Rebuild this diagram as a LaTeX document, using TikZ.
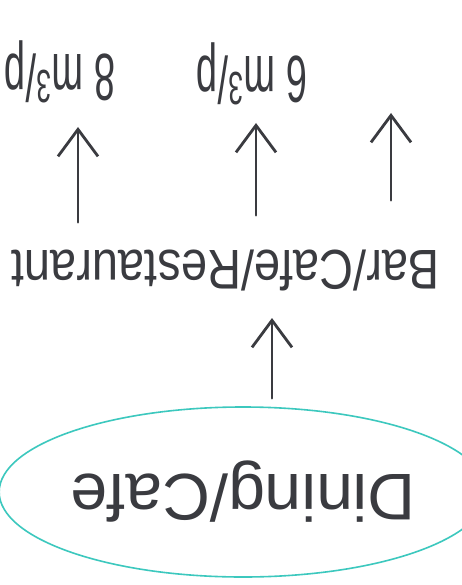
\documentclass[tikz,border=0pt]{standalone}
\usepackage{fontspec}
\setmainfont{Liberation Sans}
\usetikzlibrary{arrows.meta,shapes.geometric}
\definecolor{ink}{HTML}{3A3B40}
\definecolor{cyanline}{HTML}{3CC8BE}
\begin{document}
\begin{tikzpicture}[x=1pt,y=1pt,
  arr/.style={draw=ink, line width=2.8pt, line cap=round, line join=round,
    -{Straight Barb[length=27pt,width=40pt,line width=2.8pt]}},
  lbl/.style={text=ink, inner sep=0pt}]
\useasboundingbox (0,0) rectangle (462,-585);
\clip (0,0) rectangle (462,-585);
\fill[white] (0,0) rectangle (462,-585);
% top labels (drawn upside down, as in the reference)
\node[lbl, yscale=1.75, font=\fontsize{38}{38}\selectfont] (l8) at (60,-72) {\rotatebox{180}{8 m\textsuperscript{3}/p}};
\node[lbl, yscale=1.75, font=\fontsize{38}{38}\selectfont] (l6) at (252,-74) {\rotatebox{180}{6 m\textsuperscript{3}/p}};
% middle label
\node[lbl, anchor=east, xscale=0.84, font=\fontsize{56}{56}\selectfont] (bar) at (440,-271) {\rotatebox{180}{Bar/Cafe/Restaurant}};
% bottom ellipse
\node[ellipse, draw=cyanline, line width=1.6pt, minimum width=446pt, minimum height=170pt,
  inner sep=0pt, text=ink, font=\fontsize{66}{66}\selectfont] (dining) at (243,-492) {\rotatebox{180}{Dining/Cafe}};
% arrow tips
\coordinate (t1) at (78,-127);
\coordinate (t2) at (256,-123);
\coordinate (t3) at (391,-113);
\coordinate (t4) at (272,-318);
\draw[arr, shorten <=28pt] (bar.north -| t1) -- (t1);
\draw[arr, shorten <=35pt] (bar.north -| t2) -- (t2);
\draw[arr, shorten <=50pt] (bar.north -| t3) -- (t3);
\draw[arr, shorten <=8pt] (dining.north -| t4) -- (t4);
\end{tikzpicture}
\end{document}
